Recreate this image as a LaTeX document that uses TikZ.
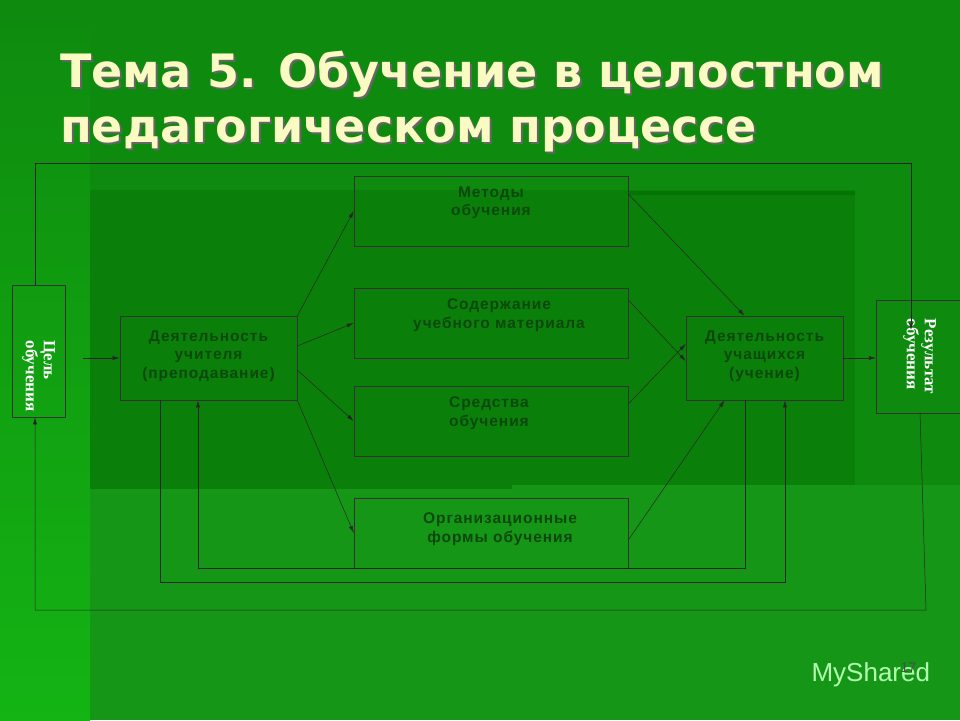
\documentclass[tikz,border=0pt]{standalone}
\usepackage{fontspec}
\setmainfont{Liberation Sans}[LetterSpace=6]
\newfontfamily\ttl{DejaVu Sans}
\newfontfamily\srf{Liberation Serif}
\newfontfamily\plain{Liberation Sans}
\usetikzlibrary{arrows.meta}
\definecolor{bg}{RGB}{22,150,22}
\definecolor{bgtop}{RGB}{14,138,14}
\definecolor{bgin}{RGB}{10,128,10}
\definecolor{bgleft}{RGB}{20,180,20}
\definecolor{txt}{RGB}{12,72,12}
\definecolor{ttlc}{RGB}{250,250,195}
\begin{document}
\begin{tikzpicture}[x=1pt,y=-1pt,
  bx/.style={draw=black!80,line width=0.6pt,inner sep=0pt},
  tx/.style={align=center,font=\bfseries\fontsize{15.5}{18.5}\selectfont,text=txt,inner sep=0pt},
  vt/.style={font=\srf\bfseries\fontsize{17}{18}\selectfont,text=white,align=left,rotate=-90},
  ar/.style={-{Latex[length=7pt,width=4pt]},line width=0.5pt,draw=black!85},
  ln/.style={line width=0.5pt,draw=black!85}]
\useasboundingbox (0,0) rectangle (960,720);
\fill[bg] (0,0) rectangle (960,720);
\shade[top color=bgtop,bottom color=bgleft] (0,0) rectangle (90,720);
\fill[bgtop] (90,0) rectangle (960,485);
\fill[bgin] (90,190) rectangle (855,485);
\fill[black!40!green!70!black,opacity=0.5] (90,485) rectangle (512,489);
\fill[black!40!green!70!black,opacity=0.5] (628,191) rectangle (855,195);
% title
\foreach \dx/\c in {2/black!60, 0/ttlc}{
\node[anchor=west,font=\ttl\bfseries\fontsize{46}{46}\selectfont,text=\c,inner sep=0pt] at (60+\dx,74+\dx) {Тема 5. Обучение в целостном};
\node[anchor=west,font=\ttl\bfseries\fontsize{46}{46}\selectfont,text=\c,inner sep=0pt] at (60+\dx,134+\dx) {педагогическом процессе};
}
% nodes
\node[bx,minimum width=53pt,minimum height=132pt] (goal) at (38.5,351) {};
\node[vt] at ([yshift=-25pt]goal) {Цель\\обучения};
\node[bx,minimum width=86pt,minimum height=113pt,anchor=west] (res) at (876,356.5) {};
\node[vt] at ([xshift=-43pt]res.east) {Результат\\обучения};
\node[bx,minimum width=177pt,minimum height=84pt] (teach) at (208.5,358) {};
\node[tx] at (208.5,356) {Деятельность\\учителя\\(преподавание)};
\node[bx,minimum width=157pt,minimum height=84pt] (stud) at (764.5,358) {};
\node[tx] at (764.5,356) {Деятельность\\учащихся\\(учение)};
\node[bx,minimum width=274pt,minimum height=70pt] (m1) at (491,211) {};
\node[tx] at (491,203) {Методы\\обучения};
\node[bx,minimum width=274pt,minimum height=70pt] (m2) at (491,323) {};
\node[tx] at (499,315) {Содержание\\учебного материала};
\node[bx,minimum width=274pt,minimum height=70pt] (m3) at (491,421) {};
\node[tx] at (489,413) {Средства\\обучения};
\node[bx,minimum width=274pt,minimum height=70pt] (m4) at (491,533) {};
\node[tx] at (500,529) {Организационные\\формы обучения};
% connectors
\draw[ar] (goal.east|-teach) ++(18,0) -- (teach.west);
\draw[ar] (teach.east) ++(0,-42) -- (m1.west);
\draw[ar] (teach.east) ++(0,-12) -- (m2.west);
\draw[ar] (teach.east) ++(0,12) -- (m3.west);
\draw[ar] (teach.south east) -- (m4.west);
\draw[ar] (m1.east) ++(0,-17) -- ([xshift=-20pt]stud.north);
\draw[ar] (m2.east) ++(0,-23) -- ([yshift=-3pt]stud.west);
\draw[ar] (m3.east) ++(0,-17) -- ([yshift=14pt]stud.west);
\draw[ar] (m4.east) ++(0,7) -- ([xshift=-40pt]stud.south);
\draw[ar] (stud.east) -- (res.west|-stud.east);
\coordinate (t1) at (35,163);
\coordinate (t2) at (911,163);
\draw[ar] (goal.north-|t1) -- (t1) -- (t2) -- (911,330);
\coordinate (b1) at (926,610);
\coordinate (b2) at (35,610);
\draw[ar] (920,413) -- (b1) -- (b2) -- (goal.south-|b2);
\coordinate (l1) at (160,582);
\coordinate (l2) at (785,582);
\draw[ar] (teach.south-|l1) -- (l1) -- (l2) -- (stud.south-|l2);
\coordinate (k1) at (745,568);
\coordinate (k2) at (198,568);
\draw[ar] (stud.south-|k1) -- (k1) -- (k2) -- (teach.south-|k2);
% footer
\node[font=\plain\fontsize{26}{26}\selectfont,text=green!30!white,anchor=west] at (808,675) {MyShared};
\node[font=\plain\fontsize{14}{14}\selectfont,text=black!70,anchor=west] at (897,668) {17};
\end{tikzpicture}
\end{document}
